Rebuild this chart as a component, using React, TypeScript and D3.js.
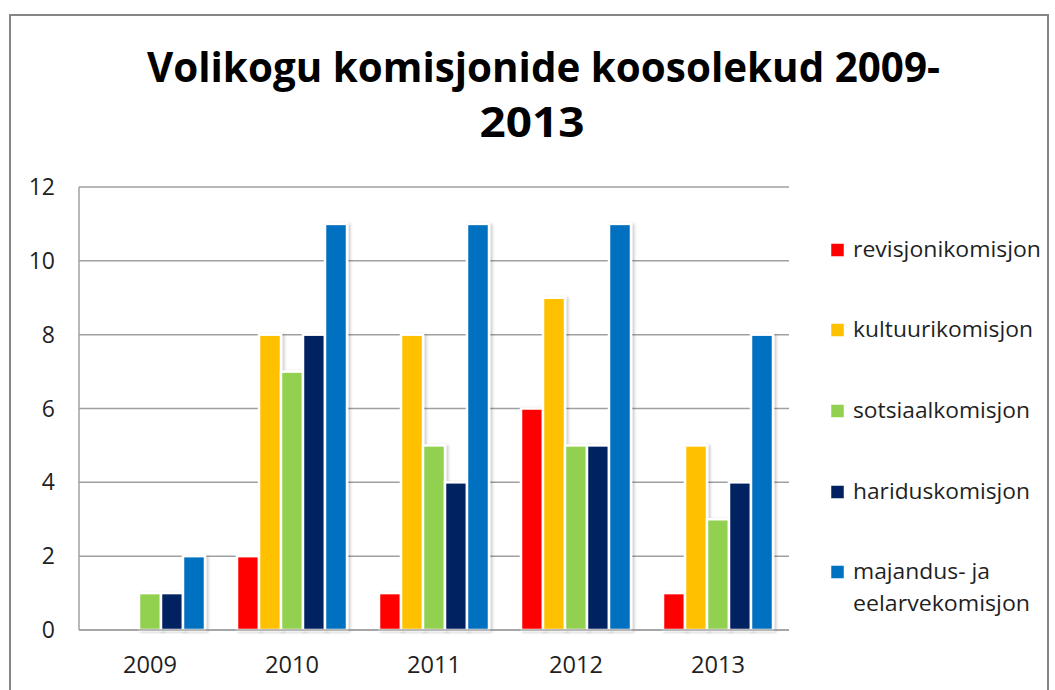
import React from "react";
import * as d3 from "d3";

const years = ["2009", "2010", "2011", "2012", "2013"];
const seriesNames = [
  "revisjonikomisjon",
  "kultuurikomisjon",
  "sotsiaalkomisjon",
  "hariduskomisjon",
  "majandus- ja eelarvekomisjon",
];
const legendLines = [
  ["revisjonikomisjon"],
  ["kultuurikomisjon"],
  ["sotsiaalkomisjon"],
  ["hariduskomisjon"],
  ["majandus- ja", "eelarvekomisjon"],
];
const legendWidths = [[188], [180], [177], [177], [137, 177]];
const revisjon = [0, 2, 1, 6, 1];
const kultuur = [0, 8, 8, 9, 5];
const sotsiaal = [1, 7, 5, 5, 3];
const haridus = [1, 8, 4, 5, 4];
const majandus = [2, 11, 11, 11, 8];
const seriesValues = [revisjon, kultuur, sotsiaal, haridus, majandus];
const colors = ["#FF0000", "#FFC000", "#92D050", "#002060", "#0070C0"];
const yTicks = [0, 2, 4, 6, 8, 10, 12];
const titleLines = ["Volikogu komisjonide koosolekud 2009-", "2013"];

export default function App() {
  const W = 1055;
  const H = 690;
  const left = 79;
  const right = 789;
  const top = 187;
  const bottom = 630;

  const x0 = d3
    .scaleBand<string>()
    .domain(years)
    .range([left, right])
    .paddingInner(0.2254)
    .paddingOuter(0.1127);
  const x1 = d3
    .scaleBand<string>()
    .domain(seriesNames)
    .range([0, x0.bandwidth()]);
  const y = d3.scaleLinear().domain([0, 12]).range([bottom, top]);

  const font = "'Open Sans', 'DejaVu Sans', sans-serif";
  const legendY = [250, 330, 411, 492, 572];

  return (
    <svg
      width={W}
      height={H}
      style={{ position: "absolute", left: 0, top: 0, background: "#fff" }}
    >
      <defs>
        <filter id="shadow" x="-30%" y="-10%" width="160%" height="120%">
          <feDropShadow dx="2" dy="1" stdDeviation="1.6" floodColor="#000" floodOpacity="0.22" />
        </filter>
      </defs>
      <rect x={0} y={0} width={W} height={H} fill="#fff" />
      <rect x={10} y={15} width={1038} height={700} fill="none" stroke="#868686" strokeWidth={2} />

      <text
        x={543.5}
        y={82}
        textAnchor="middle"
        fontFamily={font}
        fontWeight="bold"
        fontSize={42}
        textLength={793}
        lengthAdjust="spacingAndGlyphs"
        fill="#000"
      >
        {titleLines[0]}
      </text>
      <text
        x={532}
        y={137}
        textAnchor="middle"
        fontFamily={font}
        fontWeight="bold"
        fontSize={42}
        textLength={105}
        lengthAdjust="spacingAndGlyphs"
        fill="#000"
      >
        {titleLines[1]}
      </text>

      {yTicks.map((t) => (
        <g key={t}>
          <line x1={left} x2={right} y1={y(t)} y2={y(t)} stroke="#a0a0a0" strokeWidth={1.5} />
          <text
            x={55}
            y={y(t)}
            dy="0.35em"
            textAnchor="end"
            fontFamily={font}
            fontSize={23}
            fill="#1f1f1f"
          >
            {t}
          </text>
        </g>
      ))}
      <line x1={left} x2={left} y1={top} y2={bottom} stroke="#a0a0a0" strokeWidth={1.5} />

      {years.map((yr, i) => (
        <g key={yr} transform={`translate(${x0(yr)},0)`}>
          {seriesNames.map((s, j) => {
            const v = seriesValues[j][i];
            if (!v) return null;
            return (
              <rect
                key={s}
                x={x1(s)}
                y={y(v)}
                width={x1.bandwidth()}
                height={y(0) - y(v)}
                fill={colors[j]}
                stroke="#fff"
                strokeWidth={2.5}
                filter="url(#shadow)"
              />
            );
          })}
        </g>
      ))}
      <line x1={left} x2={right} y1={bottom} y2={bottom} stroke="#a0a0a0" strokeWidth={1.5} />

      {years.map((yr) => (
        <text
          key={yr}
          x={(x0(yr) as number) + x0.bandwidth() / 2}
          y={673}
          textAnchor="middle"
          fontFamily={font}
          fontSize={23}
          textLength={54}
          lengthAdjust="spacingAndGlyphs"
          fill="#1f1f1f"
        >
          {yr}
        </text>
      ))}

      {legendLines.map((lines, i) => (
        <g key={i}>
          <rect
            x={831}
            y={legendY[i] - 6.5}
            width={13}
            height={13}
            fill={colors[i]}
            stroke="#fff"
            strokeWidth={0.5}
          />
          {lines.map((ln, k) => (
            <text
              key={k}
              x={853}
              y={legendY[i] + 7 + k * 32}
              fontFamily={font}
              fontSize={21}
              textLength={legendWidths[i][k]}
              lengthAdjust="spacingAndGlyphs"
              fill="#1f1f1f"
            >
              {ln}
            </text>
          ))}
        </g>
      ))}
    </svg>
  );
}
